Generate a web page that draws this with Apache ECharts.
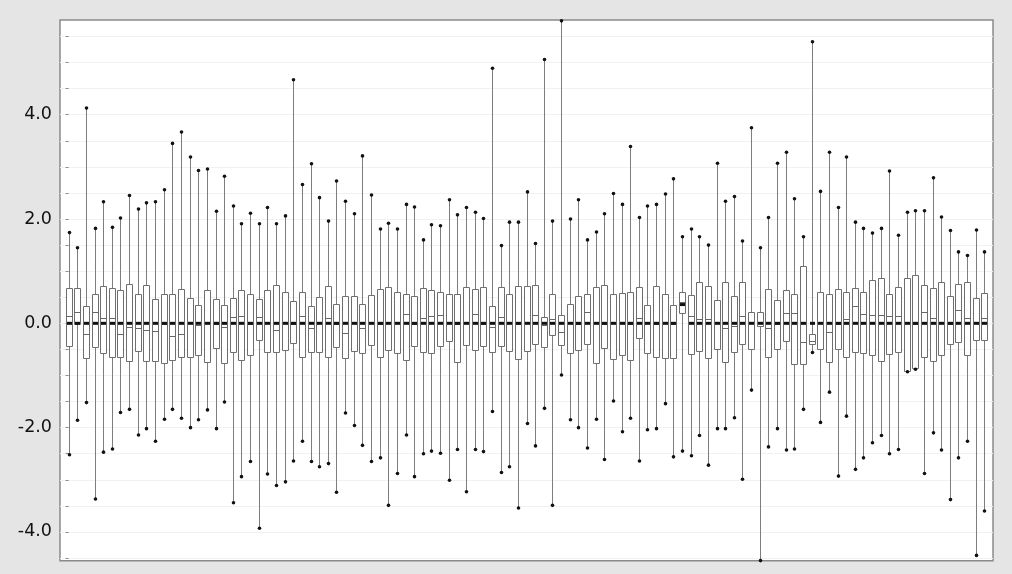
<!DOCTYPE html>
<html>
<head>
<meta charset="utf-8">
<script src="https://cdn.jsdelivr.net/npm/echarts@6/dist/echarts.min.js"></script>
<style>html,body{margin:0;padding:0;background:#e5e5e5;}#c{width:1012px;height:574px;}</style>
</head>
<body>
<div id="c"></div>
<script>
// Box-plot statistics, one entry per box (107 boxes, left to right)
const maxVals = [1.74,1.45,4.13,1.82,2.33,1.84,2.02,2.45,2.19,2.31,2.33,2.56,3.45,3.67,3.19,2.93,2.96,2.15,2.82,2.25,
  1.91,2.11,1.91,2.22,1.91,2.06,4.67,2.66,3.06,2.41,1.96,2.73,2.34,2.10,3.21,2.46,1.81,1.92,1.81,2.28,
  2.23,1.60,1.89,1.87,2.37,2.08,2.22,2.13,2.01,4.89,1.49,1.94,1.94,2.52,1.53,5.06,1.96,5.80,2.00,2.37,
  1.60,1.75,2.10,2.49,2.28,3.39,2.03,2.25,2.28,2.48,2.77,1.66,1.81,1.66,1.50,3.07,2.34,2.43,1.58,3.75,
  1.45,2.03,3.07,3.28,2.39,1.66,5.40,2.53,3.28,2.22,3.19,1.94,1.82,1.73,1.82,2.92,1.69,2.13,2.16,2.16,
  2.79,2.04,1.78,1.37,1.30,1.79,1.37];
const q3Vals = [0.67,0.67,0.33,0.56,0.71,0.67,0.63,0.75,0.57,0.74,0.46,0.57,0.56,0.65,0.48,0.36,0.63,0.46,0.36,0.49,
  0.63,0.57,0.46,0.63,0.73,0.61,0.43,0.61,0.33,0.50,0.71,0.38,0.53,0.52,0.38,0.55,0.65,0.69,0.61,0.57,
  0.52,0.67,0.63,0.61,0.56,0.56,0.69,0.65,0.69,0.34,0.69,0.57,0.71,0.71,0.74,0.12,0.57,0.16,0.38,0.53,
  0.57,0.70,0.74,0.56,0.59,0.60,0.69,0.36,0.71,0.57,0.36,0.60,0.54,0.80,0.71,0.44,0.80,0.52,0.80,0.21,
  0.22,0.65,0.44,0.63,0.56,1.10,-0.21,0.61,0.56,0.65,0.60,0.67,0.61,0.83,0.87,0.57,0.69,0.87,0.92,0.74,
  0.67,0.79,0.53,0.75,0.79,0.49,0.59];
const medianVals = [0.15,0.21,-0.21,0.21,0.11,0.11,-0.20,-0.08,-0.09,-0.13,-0.14,-0.02,-0.24,-0.20,0.02,-0.03,0.01,-0.02,-0.07,0.13,
  0.14,-0.02,0.13,0.02,-0.13,0.01,-0.02,0.14,-0.09,0.02,0.11,-0.01,-0.19,0.02,-0.09,0.01,-0.02,0.01,0.02,0.17,
  -0.02,0.11,0.14,0.16,0.02,-0.02,0.01,0.17,-0.01,-0.07,0.13,0.02,-0.01,0.02,0.16,-0.03,0.09,-0.17,0.01,-0.02,
  0.21,0.02,-0.01,0.01,0.02,-0.02,0.11,0.01,-0.01,0.02,-0.02,0.40,0.14,0.09,0.09,0.01,-0.09,-0.05,0.14,0.02,
  0.03,-0.09,-0.01,0.19,0.19,-0.35,-0.33,0.02,-0.16,-0.01,0.09,0.34,0.17,0.16,0.16,0.14,0.14,0.02,-0.01,0.21,
  0.11,0.01,-0.02,0.26,0.11,0.02,0.11];
const q1Vals = [-0.45,-0.02,-0.66,-0.45,-0.57,-0.65,-0.65,-0.73,-0.52,-0.71,-0.73,-0.76,-0.71,-0.65,-0.65,-0.60,-0.76,-0.48,-0.76,-0.54,
  -0.71,-0.60,-0.32,-0.56,-0.56,-0.51,-0.37,-0.63,-0.56,-0.56,-0.66,-0.45,-0.66,-0.54,-0.56,-0.41,-0.65,-0.51,-0.56,-0.69,
  -0.43,-0.56,-0.57,-0.43,-0.34,-0.75,-0.43,-0.52,-0.45,-0.54,-0.45,-0.52,-0.69,-0.54,-0.39,-0.45,-0.22,-0.41,-0.56,-0.51,
  -0.39,-0.76,-0.46,-0.69,-0.60,-0.71,-0.29,-0.56,-0.66,-0.65,-0.65,0.19,-0.59,-0.52,-0.68,-0.50,-0.73,-0.56,-0.39,-0.50,
  -0.04,-0.66,-0.50,-0.34,-0.78,-0.78,-0.41,-0.48,-0.75,-0.50,-0.65,-0.56,-0.56,-0.61,-0.73,-0.59,-0.56,-0.91,-0.86,-0.65,
  -0.73,-0.61,-0.39,-0.36,-0.61,-0.31,-0.31];
const minVals = [-2.52,-1.86,-1.52,-3.37,-2.47,-2.41,-1.71,-1.65,-2.14,-2.02,-2.26,-1.84,-1.65,-1.82,-2.00,-1.85,-1.66,-2.02,-1.51,-3.44,
  -2.94,-2.65,-3.93,-2.89,-3.11,-3.04,-2.64,-2.26,-2.65,-2.75,-2.69,-3.24,-1.72,-1.96,-2.34,-2.65,-2.58,-3.49,-2.88,-2.14,
  -2.94,-2.50,-2.45,-2.49,-3.01,-2.42,-3.23,-2.42,-2.46,-1.69,-2.86,-2.75,-3.54,-1.92,-2.35,-1.63,-3.49,-0.99,-1.85,-2.00,
  -2.39,-1.84,-2.61,-1.49,-2.08,-1.82,-2.64,-2.04,-2.02,-1.54,-2.56,-2.45,-2.54,-2.15,-2.72,-2.02,-2.02,-1.81,-2.99,-1.28,
  -4.55,-2.37,-2.02,-2.43,-2.41,-1.65,-0.56,-1.90,-1.32,-2.93,-1.78,-2.80,-2.58,-2.29,-2.15,-2.50,-2.42,-0.93,-0.88,-2.88,
  -2.10,-2.43,-3.38,-2.58,-2.26,-4.45,-3.60];
// Black reference marker per box
const refMarks = [0,0,0,0,0,0,0,0,0,0,0,0,0,0,0,0,0,0,0,0,
  0,0,0,0,0,0,0,0,0,0,0,0,0,0,0,0,0,0,0,0,
  0,0,0,0,0,0,0,0,0,0,0,0,0,0,0,0,0,0,0,0,
  0,0,0,0,0,0,0,0,0,0,0,0.36,0,0,0,0,0,0,0,0,
  0,0,0,0,0,0,0,0,0,0,0,0,0,0,0,0,0,0,0,0,
  0,0,0,0,0,0,0];
const yTickLabels = ['-4.0','-2.0','0.0','2.0','4.0'];

const seriesData = maxVals.map((v, i) => [i, minVals[i], q1Vals[i], medianVals[i], q3Vals[i], v, refMarks[i]]);

const chart = echarts.init(document.getElementById('c'), null, {renderer: 'canvas'});

function renderBox(params, api) {
  const i = api.value(0);
  const pMin = api.coord([i, api.value(1)]);
  const pQ1 = api.coord([i, api.value(2)]);
  const pMed = api.coord([i, api.value(3)]);
  const pQ3 = api.coord([i, api.value(4)]);
  const pMax = api.coord([i, api.value(5)]);
  const pRef = api.coord([i, api.value(6)]);
  const xc = Math.round(pMin[0]) + 0.5;
  const hw = 3;
  const grey = '#7d7d7d';
  return {
    type: 'group',
    children: [
      {type: 'line', shape: {x1: xc, y1: pMax[1], x2: xc, y2: pMin[1]}, style: {stroke: grey, lineWidth: 1}},
      {type: 'rect', shape: {x: xc - hw, y: Math.round(pQ3[1]) + 0.5, width: hw * 2, height: Math.max(1, Math.round(pQ1[1] - pQ3[1]))},
        style: {fill: '#ffffff', stroke: '#6e6e6e', lineWidth: 1}},
      {type: 'line', shape: {x1: xc - hw, y1: Math.round(pMed[1]) + 0.5, x2: xc + hw, y2: Math.round(pMed[1]) + 0.5}, style: {stroke: '#666', lineWidth: 1}},
      {type: 'rect', shape: {x: xc - 2.5, y: pRef[1] - 1.5, width: 5, height: 3}, style: {fill: '#111'}},
      {type: 'circle', shape: {cx: xc, cy: pMax[1], r: 1.8}, style: {fill: '#111'}},
      {type: 'circle', shape: {cx: xc, cy: pMin[1], r: 1.8}, style: {fill: '#111'}}
    ]
  };
}

chart.setOption({
  animation: false,
  backgroundColor: '#e5e5e5',
  grid: [
    {left: 60, right: 19, top: 20, bottom: 13.3, show: true, backgroundColor: '#ffffff', borderColor: '#8a8a8a', borderWidth: 1.5},
    {left: 60, right: 19, top: 36.5, bottom: 16, show: false}
  ],
  xAxis: [
    {gridIndex: 0, type: 'value', min: 0, max: 1, show: false},
    {gridIndex: 1, type: 'value', min: -1, max: 107, show: false}
  ],
  yAxis: [
    {gridIndex: 0, type: 'value', min: 0, max: 1, show: false},
    {gridIndex: 1, type: 'value', min: -4.5, max: 5.5, interval: 0.5,
      axisLine: {show: false},
      axisTick: {show: true, inside: false, length: 3, lineStyle: {color: '#8a8a8a', width: 1}},
      splitLine: {show: true, lineStyle: {color: '#f1f1f1', width: 1}},
      axisLabel: {
        margin: 8,
        color: '#111',
        fontFamily: 'DejaVu Sans',
        fontSize: 17.5,
        formatter: function (v) {
          const s = v.toFixed(1);
          return yTickLabels.indexOf(s) >= 0 ? s : '';
        }
      }
    }
  ],
  series: [{
    type: 'custom',
    xAxisIndex: 1,
    yAxisIndex: 1,
    renderItem: renderBox,
    encode: {x: 0, y: [1, 2, 3, 4, 5, 6]},
    data: seriesData,
    silent: true
  }]
});
</script>
</body>
</html>
